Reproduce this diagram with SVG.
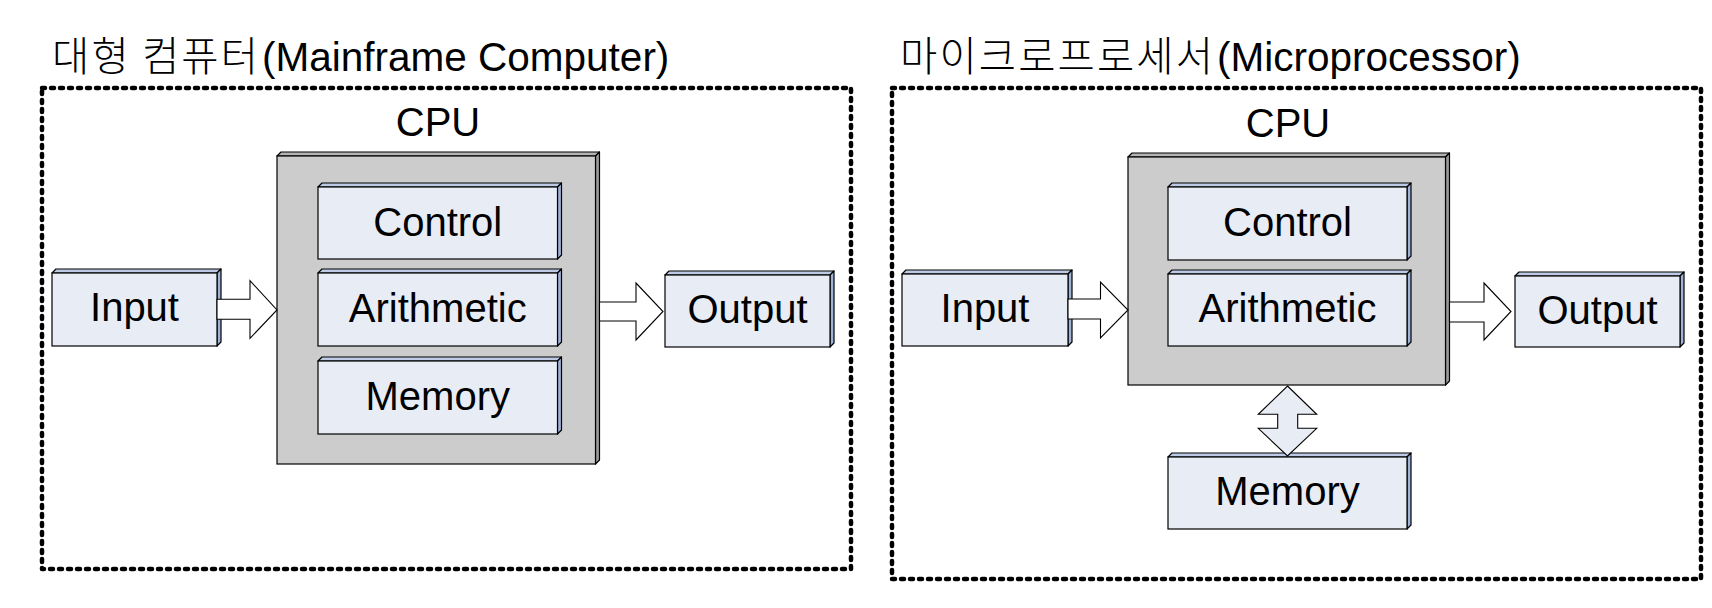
<svg xmlns="http://www.w3.org/2000/svg" width="1712" height="608" viewBox="0 0 1712 608">
<style>
text{font-family:"Liberation Sans",Arial,"Noto Sans CJK KR",sans-serif;font-size:40px;fill:#000}
.title{font-size:40.5px}
.ko{font-family:"Noto Sans CJK KR Light","Noto Sans CJK KR","Noto Sans CJK SC",sans-serif;font-weight:300}
.lbl{text-anchor:middle}
.frame{fill:none;stroke:#000;stroke-width:4.5;stroke-dasharray:3 6;stroke-linecap:round;stroke-linejoin:round}
.bf{fill:#e8ecf5;stroke:#000;stroke-width:1.2}
.bt{fill:#bccae6;stroke:#000;stroke-width:1.2;stroke-linejoin:round}
.br{fill:#9fb2d8;stroke:#000;stroke-width:1.2;stroke-linejoin:round}
.cf{fill:#cccccc;stroke:#000;stroke-width:1.2}
.ct{fill:#b3b3b3;stroke:#000;stroke-width:1.2;stroke-linejoin:round}
.cr{fill:#9a9a9a;stroke:#000;stroke-width:1.2;stroke-linejoin:round}
.arr{fill:#fff;stroke:#000;stroke-width:1.1;stroke-linejoin:miter}
.darr{fill:#e8ecf5;stroke:#000;stroke-width:1.1}
</style>

<g id="mainframe-panel">
  <text class="title" y="71"><tspan class="ko" x="52" textLength="206" lengthAdjust="spacing">대형 컴퓨터</tspan><tspan x="262">(Mainframe Computer)</tspan></text>
  <rect class="frame" x="42" y="88" width="809" height="481"/>
</g>

<g id="micro-panel">
  <text class="title" y="71"><tspan class="ko" x="900" textLength="313" lengthAdjust="spacing">마이크로프로세서</tspan><tspan x="1217">(Microprocessor)</tspan></text>
  <rect class="frame" x="892" y="88" width="809" height="491"/>
</g>

<!-- Left panel nodes -->
<g id="mf-input">
  <polygon class="bt" points="52,273 56,269 221,269 217,273"/>
  <polygon class="br" points="217,273 221,269 221,342 217,346"/>
  <rect class="bf" x="52" y="273" width="165" height="73"/>
  <text class="lbl" x="134.5" y="321">Input</text>
</g>

<g id="mf-cpu">
  <text class="lbl" x="438" y="136">CPU</text>
  <polygon class="ct" points="277,156 281,152 599.5,152 595.5,156"/>
  <polygon class="cr" points="595.5,156 599.5,152 599.5,460 595.5,464"/>
  <rect class="cf" x="277" y="156" width="318.5" height="308"/>
</g>

<g id="mf-control">
  <polygon class="bt" points="318,187 322,183 561.5,183 557.5,187"/>
  <polygon class="br" points="557.5,187 561.5,183 561.5,255 557.5,259"/>
  <rect class="bf" x="318" y="187" width="239.5" height="72"/>
  <text class="lbl" x="437.75" y="235.5">Control</text>
</g>

<g id="mf-arith">
  <polygon class="bt" points="318,273 322,269 561.5,269 557.5,273"/>
  <polygon class="br" points="557.5,273 561.5,269 561.5,342 557.5,346"/>
  <rect class="bf" x="318" y="273" width="239.5" height="73"/>
  <text class="lbl" x="437.75" y="321.5">Arithmetic</text>
</g>

<g id="mf-memory">
  <polygon class="bt" points="318,361 322,357 561.5,357 557.5,361"/>
  <polygon class="br" points="557.5,361 561.5,357 561.5,430 557.5,434"/>
  <rect class="bf" x="318" y="361" width="239.5" height="73"/>
  <text class="lbl" x="437.75" y="410">Memory</text>
</g>

<g id="mf-output">
  <polygon class="bt" points="665,275 669,271 834,271 830,275"/>
  <polygon class="br" points="830,275 834,271 834,343 830,347"/>
  <rect class="bf" x="665" y="275" width="165" height="72"/>
  <text class="lbl" x="747.5" y="323">Output</text>
</g>

<!-- Right panel nodes -->
<g id="mp-input">
  <polygon class="bt" points="902,274 906,270 1072,270 1068,274"/>
  <polygon class="br" points="1068,274 1072,270 1072,342 1068,346"/>
  <rect class="bf" x="902" y="274" width="166" height="72"/>
  <text class="lbl" x="985" y="321.5">Input</text>
</g>

<g id="mp-cpu">
  <text class="lbl" x="1288" y="137">CPU</text>
  <polygon class="ct" points="1128,157 1132,153 1449.5,153 1445.5,157"/>
  <polygon class="cr" points="1445.5,157 1449.5,153 1449.5,381 1445.5,385"/>
  <rect class="cf" x="1128" y="157" width="317.5" height="228"/>
</g>

<g id="mp-control">
  <polygon class="bt" points="1168,187 1172,183 1411,183 1407,187"/>
  <polygon class="br" points="1407,187 1411,183 1411,256 1407,260"/>
  <rect class="bf" x="1168" y="187" width="239" height="73"/>
  <text class="lbl" x="1287.5" y="236">Control</text>
</g>

<g id="mp-arith">
  <polygon class="bt" points="1168,274 1172,270 1411,270 1407,274"/>
  <polygon class="br" points="1407,274 1411,270 1411,342 1407,346"/>
  <rect class="bf" x="1168" y="274" width="239" height="72"/>
  <text class="lbl" x="1287.5" y="322">Arithmetic</text>
</g>

<g id="mp-output">
  <polygon class="bt" points="1515,276 1519,272 1684,272 1680,276"/>
  <polygon class="br" points="1680,276 1684,272 1684,343 1680,347"/>
  <rect class="bf" x="1515" y="276" width="165" height="71"/>
  <text class="lbl" x="1597.5" y="323.5">Output</text>
</g>

<g id="mp-memory">
  <polygon class="bt" points="1168,457 1172,453 1411,453 1407,457"/>
  <polygon class="br" points="1407,457 1411,453 1411,525 1407,529"/>
  <rect class="bf" x="1168" y="457" width="239" height="72"/>
  <text class="lbl" x="1287.5" y="505">Memory</text>
</g>

<!-- Connectors -->
<g id="connectors">
  <polygon class="arr" points="217,299.3 250,299.3 250,280.7 277,310 250,338.3 250,319.3 217,319.3"/>
  <polygon class="arr" points="599.5,302 636,302 636,283 663,311.5 636,340 636,321 599.5,321"/>
  <polygon class="arr" points="1068,299 1100.5,299 1100.5,282 1128,310 1100.5,338 1100.5,319 1068,319"/>
  <polygon class="arr" points="1449.5,302 1484,302 1484,283 1511,311.5 1484,340 1484,322 1449.5,322"/>
  <polygon class="darr" points="1287.5,386 1316.7,414.3 1297.7,414.3 1297.7,428.3 1316.7,428.3 1287.5,456 1258.3,428.3 1277.7,428.3 1277.7,414.3 1258.3,414.3"/>
</g>
</svg>
